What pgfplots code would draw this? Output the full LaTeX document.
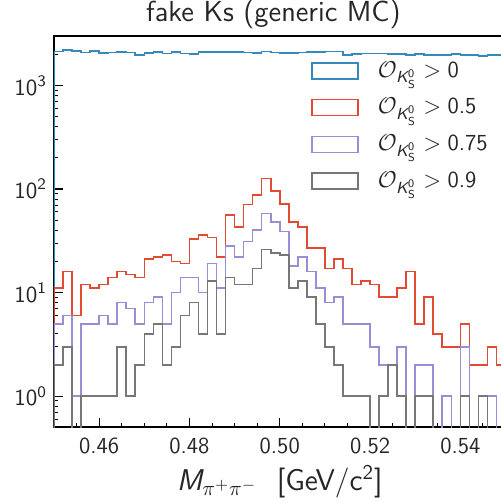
\RequirePackage{fix-cm}
\documentclass[border=0pt]{standalone}
\usepackage{amsmath}
\usepackage{pgfplots}
\pgfplotsset{compat=1.18}
\usepackage{pgfplotstable}
\renewcommand{\familydefault}{\sfdefault}
\definecolor{cblue}{HTML}{348ABD}
\definecolor{cred}{HTML}{E24A33}
\definecolor{cpurple}{HTML}{988ED5}
\definecolor{cgrey}{HTML}{777777}

% bin left edges; 0.001 = empty bin (drawn down to the bottom, clipped)
\pgfplotstableread{
x blue red purple grey
0.450 0.001 0.001 0.001 0.001
0.450 2126 11 5 2
0.452 2188 16 6 3
0.454 2140 6 1 0.001
0.456 2080 12 5 1
0.458 2140 11 5 1
0.460 2060 12 6 1
0.462 2080 14 5 1
0.464 2107 16 8 3
0.466 2080 15 7 1
0.468 1971 14 5 2
0.470 2060 21 8 4
0.472 2107 22 9 5
0.474 2033 23 5 2
0.476 2093 20 10 3
0.478 2033 19 14 6
0.480 2015 33 14 8
0.482 2107 36 10 4
0.484 2093 34 19 13
0.486 2093 22 11 4
0.488 2107 56 28 14
0.490 2107 43 22 12
0.492 2080 71 31 12
0.494 2060 88 40 17
0.496 2126 126 58 26
0.498 2080 96 48 24
0.500 2060 72 39 23
0.502 2060 48 18 11
0.504 2080 43 22 13
0.506 2107 27 16 9
0.508 2107 27 11 5
0.510 2126 17 8 3
0.512 2126 21 9 2
0.514 1958 17 5 1
0.516 2015 12 5 1
0.518 2040 13 5 1
0.520 2033 12 3 0.001
0.522 2033 9 2 1
0.524 2015 9 2 2
0.526 2015 11 3 1
0.528 1971 16 0.001 0.001
0.530 2015 5 2 1
0.532 1971 9 2 1
0.534 1958 4 0.001 0.001
0.536 1958 3 1 0.001
0.538 2015 3 0.001 0.001
0.540 1971 5 3 1
0.542 1971 2 0.001 0.001
0.544 1935 2 1 1
0.546 1971 3 1 0.001
0.548 1971 2 0.001 0.001
0.550 1971 2 0.001 0.001
0.550 0.001 0.001 0.001 0.001
}\histdata

\newcommand{\OK}{\mathcal{O}_{\text{\itshape K}^{\text{0}}_{\text{S}}}}

\begin{document}
\begin{tikzpicture}
\begin{axis}[
  at={(0pt,0pt)}, anchor=south west,
  scale only axis, width=225.75pt, height=195.65pt,
  xmin=0.45, xmax=0.55, ymode=log, ymin=0.5, ymax=3000,
  axis line style={line width=0.9pt, black},
  tick align=inside, xtick pos=left, ytick pos=left,
  xtick={0.46,0.48,0.50,0.52,0.54},
  xticklabels={0.46,0.48,0.50,0.52,0.54},
  minor xtick={0.455,0.465,0.47,0.475,0.485,0.49,0.495,0.505,0.51,0.515,0.525,0.53,0.535,0.545},
  ytick={1,10,100,1000},
  yticklabels={$\mathsf{10}^{\mathsf{0}}$,$\mathsf{10}^{\mathsf{1}}$,$\mathsf{10}^{\mathsf{2}}$,$\mathsf{10}^{\mathsf{3}}$},
  minor ytick={0.6,0.7,0.8,0.9,2,3,4,5,6,7,8,9,20,30,40,50,60,70,80,90,200,300,400,500,600,700,800,900,2000},
  major tick length=4.5pt, minor tick length=2.2pt,
  every tick/.style={black, line width=0.6pt},
  every minor tick/.style={black, line width=0.5pt},
  ticklabel style={font=\fontsize{11.5}{13}\selectfont, text=black!85},
  xticklabel style={yshift=-2pt},
  title={fake Ks (generic MC)},
  title style={font=\fontsize{14.5}{16}\selectfont, at={(0.486,1)}, anchor=south, yshift=-6pt, text=black!85},
  xlabel={$\text{\itshape M}_{\pi^+\pi^-}$ \ [GeV/c$^{\text{2}}$]},
  xlabel style={font=\fontsize{15}{17}\selectfont, text=black!85, yshift=1.5pt},
  legend style={draw=none, fill=none, at={(0.569,0.946)}, anchor=north west,
    font=\fontsize{11.5}{13}\selectfont, row sep=5pt, inner sep=0pt,
    nodes={text=black!85}},
  legend cell align=left,
  legend image code/.code={\draw[#1, sharp plot, line width=0.8pt] (0pt,-4pt) rectangle (23pt,4pt);},
  /tikz/every odd column/.append style={column sep=7.5pt},
  every axis plot/.append style={line width=0.8pt, const plot mark left, no marks},
]
\addplot[cblue] table[x=x, y=blue] {\histdata};
\addlegendentry{$\OK > \text{0}$}
\addplot[cred] table[x=x, y=red] {\histdata};
\addlegendentry{$\OK > \text{0.5}$}
\addplot[cpurple] table[x=x, y=purple] {\histdata};
\addlegendentry{$\OK > \text{0.75}$}
\addplot[cgrey] table[x=x, y=grey] {\histdata};
\addlegendentry{$\OK > \text{0.9}$}
\end{axis}
\pgfresetboundingbox
\useasboundingbox (-27pt,-37.85pt) rectangle (223.5pt,213.65pt);
\end{tikzpicture}
\end{document}
